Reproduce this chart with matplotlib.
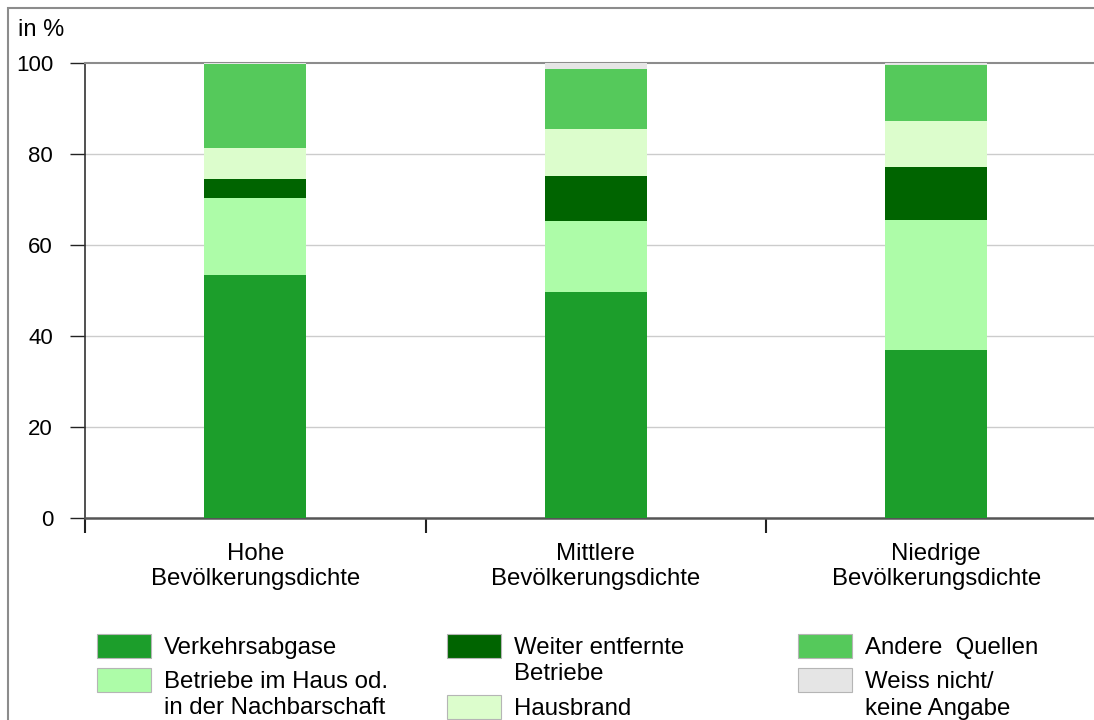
import numpy as np
import matplotlib.pyplot as plt
from matplotlib.patches import Rectangle

plt.rcParams['font.family'] = ['Liberation Sans', 'DejaVu Sans']

categories = ["Hohe\nBevölkerungsdichte", "Mittlere\nBevölkerungsdichte", "Niedrige\nBevölkerungsdichte"]
series = ["Verkehrsabgase", "Betriebe im Haus od.\nin der Nachbarschaft", "Weiter entfernte\nBetriebe",
          "Hausbrand", "Andere  Quellen", "Weiss nicht/\nkeine Angabe"]
verkehr = [53.5, 49.6, 36.9]
betriebe_haus = [16.9, 15.7, 28.7]
weiter_betriebe = [4.1, 9.9, 11.6]
hausbrand = [6.9, 10.4, 10.1]
andere = [18.3, 13.0, 12.3]
weiss_nicht = [0.3, 1.4, 0.4]
colors = ["#1c9e2b", "#adfca8", "#006400", "#dcfdcc", "#55c95b", "#e5e5e5"]
yticks = [0, 20, 40, 60, 80, 100]

W, H = 1094, 720
fig = plt.figure(figsize=(W / 100, H / 100), dpi=100)
ax = fig.add_axes([85 / W, 1 - 518 / H, (W - 85) / W, (518 - 63) / H])

x = np.arange(len(categories))
bottom = np.zeros(len(categories))
for vals, col in zip([verkehr, betriebe_haus, weiter_betriebe, hausbrand, andere, weiss_nicht], colors):
    ax.bar(x, vals, width=0.3, bottom=bottom, color=col, linewidth=0, zorder=3)
    bottom += np.array(vals)

ax.set_yticks(yticks)
ax.set_yticklabels([str(v) for v in yticks], fontsize=16)
ax.set_xticks([-0.5, 0.5, 1.5, 2.5])
ax.set_xticklabels([])
ax.set_ylim(0, 100)
ax.set_xlim(-0.5, (W - 85) / 340.5 - 0.5)
ax.tick_params(axis='y', length=11, width=1, color='#222222', pad=12)
ax.tick_params(axis='x', length=11, width=1.5, color='#222222')
for yv in yticks[1:-1]:
    ax.axhline(yv, color='#cccccc', lw=1, zorder=1)

ax.spines['right'].set_visible(False)
ax.spines['top'].set_color('#8c8c8c')
ax.spines['top'].set_linewidth(1.5)
ax.spines['left'].set_color('#333333')
ax.spines['left'].set_linewidth(1.2)
ax.spines['bottom'].set_color('#555555')
ax.spines['bottom'].set_linewidth(1.8)

for xi, lab in zip(x, categories):
    ax.text(xi, -5.6, lab, ha='center', va='top', fontsize=17.3, linespacing=1.15,
            transform=ax.transData, clip_on=False)

fig.text(18 / W, 1 - 30 / H, "in %", fontsize=17, va='center', ha='left')

# figure frame
fig.add_artist(Rectangle((8 / W, -0.1), 1.2, 1.1 - 8 / H, transform=fig.transFigure,
                         fill=False, edgecolor='#8c8c8c', lw=1.5))

# legend
leg_pos = [(97, 646), (97, 680), (447, 646), (447, 707), (798, 646), (798, 680)]
for (px, py), lab, col in zip(leg_pos, series, colors):
    fig.add_artist(Rectangle((px / W, 1 - (py + 12) / H), 54 / W, 24 / H, transform=fig.transFigure,
                             facecolor=col, edgecolor='#b5b5b5', lw=0.8))
    for i, line in enumerate(lab.split("\n")):
        fig.text((px + 67) / W, 1 - (py + 2 + i * 26.5) / H, line, fontsize=17.3, va='center', ha='left')

fig.savefig("out.png", dpi=100)
